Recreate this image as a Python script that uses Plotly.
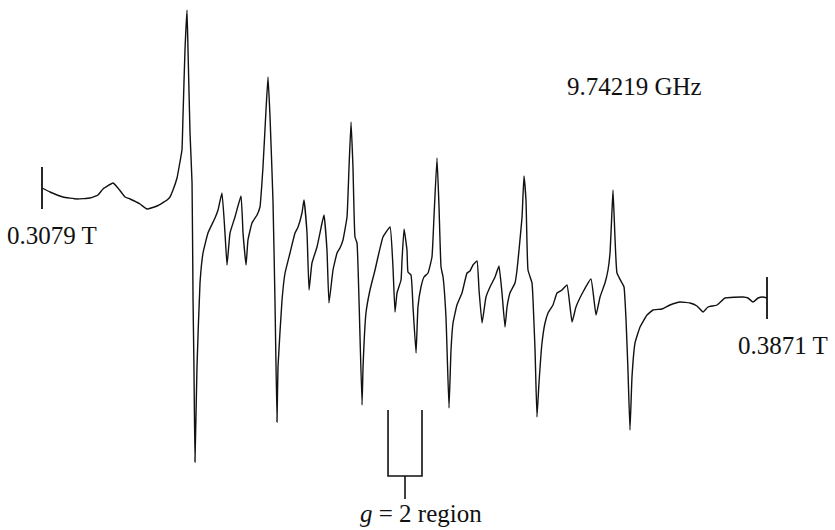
import plotly.graph_objects as go

# EPR first-derivative spectrum, field in mT, signal in arbitrary units
field_mT = [
    307.90, 308.77, 310.19, 311.72, 313.14, 314.02, 314.56, 315.66, 316.20, 316.97,
    317.51, 318.61, 319.37, 320.46, 321.56, 321.88, 322.21, 322.65, 322.97, 323.19,
    323.30, 323.52, 323.74, 323.85, 324.07, 324.29, 324.40, 324.50, 324.61, 324.83,
    325.16, 325.49, 326.03, 326.80, 327.13, 327.56, 327.89, 328.11, 328.44, 328.98,
    329.64, 329.86, 330.19, 330.40, 330.84, 331.39, 331.71, 332.04, 332.37, 332.59,
    332.81, 333.13, 333.35, 333.57, 333.68, 334.12, 334.45, 334.99, 335.54, 335.87,
    336.30, 336.52, 336.85, 337.07, 337.39, 337.94, 338.49, 338.71, 339.03, 339.25,
    339.69, 340.13, 340.45, 340.78, 341.22, 341.44, 341.66, 341.87, 342.09, 342.31,
    342.53, 342.86, 342.97, 343.29, 343.73, 344.28, 344.60, 345.15, 345.92, 346.24,
    346.46, 346.68, 347.12, 347.23, 347.45, 347.77, 347.88, 348.21, 348.43, 348.76,
    348.97, 349.30, 349.63, 350.07, 350.50, 350.72, 351.05, 351.27, 351.49, 351.71,
    352.03, 352.36, 352.58, 352.80, 353.23, 353.78, 354.33, 354.65, 354.98, 355.42,
    355.64, 355.97, 356.40, 356.84, 357.39, 357.82, 358.15, 358.48, 358.70, 359.02,
    359.57, 359.79, 360.01, 360.34, 360.55, 360.77, 360.99, 361.43, 361.54, 361.76,
    361.97, 362.19, 362.52, 362.85, 363.18, 363.72, 364.16, 364.71, 365.25, 365.80,
    366.23, 367.00, 367.87, 368.42, 368.86, 369.40, 369.73, 369.95, 370.17, 370.28,
    370.49, 370.71, 371.26, 371.48, 371.70, 371.91, 372.13, 372.35, 372.68, 373.23,
    373.99, 374.65, 375.63, 376.50, 377.60, 378.69, 379.45, 380.11, 380.65, 381.64,
    382.51, 384.48, 385.02, 385.57, 386.12, 386.66, 387.10,
]
signal = [
    112, 108, 103, 101, 102, 105, 111, 117, 112, 103,
    101, 96, 91, 94, 100, 103, 110, 122, 138, 150,
    183, 250, 290, 250, 167, 117, 0, -67, -162, -67,
    17, 47, 67, 82, 90, 107, 67, 35, 67, 83,
    104, 67, 35, 60, 77, 85, 93, 133, 190, 223,
    183, 100, 0, -122, -67, 0, 27, 47, 67, 73,
    87, 100, 67, 10, 37, 53, 77, 85, 50, -3,
    30, 47, 52, 60, 83, 133, 178, 133, 63, 57,
    0, -105, -67, -13, 10, 30, 43, 63, 73, 33,
    -12, 7, 20, 40, 71, 50, 28, 25, -7, -53,
    -7, 13, 23, 27, 43, 83, 142, 93, 33, 23,
    -17, -108, -50, -23, -5, 7, 27, 29, 35, 39,
    10, -23, 3, 13, 23, 34, 7, -27, -7, 7,
    17, 30, 50, 83, 124, 100, 30, 17, 0, -50,
    -117, -83, -43, -23, -13, -5, 7, 10, 15, -22,
    -7, 8, 21, -15, 3, 17, 30, 47, 90, 110,
    63, 27, 17, 13, -20, -70, -130, -77, -43, -27,
    -15, -10, -9, -5, -2, -3, -6, -12, -7, -5,
    2, 3, 2, -2, 2, 3, 2,
]

sweep_start_label = "0.3079 T"
sweep_end_label = "0.3871 T"
frequency_label = "9.74219 GHz"
g2_region_mT = [345.70, 349.41]   # bracketed g = 2 window
g2_region_label = "<i>g</i> = 2 region"

serif = "Liberation Serif, Times New Roman, serif"
ink = "#111111"
label_font = dict(family=serif, size=25, color=ink)

fig = go.Figure()
fig.add_trace(go.Scatter(
    x=field_mT, y=signal, mode="lines",
    line=dict(color=ink, width=1.4, shape="spline", smoothing=0.35),
    hoverinfo="skip", showlegend=False,
))

# short vertical markers at both ends of the sweep
tick_half = 21
for xv, yv in [(field_mT[0], signal[0]), (field_mT[-1], signal[-1])]:
    fig.add_shape(type="line", x0=xv, x1=xv, y0=yv - tick_half, y1=yv + tick_half,
                  line=dict(color=ink, width=1.8))

fig.add_annotation(x=field_mT[0] + 1.1, y=signal[0] - 47, text=sweep_start_label,
                   showarrow=False, font=label_font)
fig.add_annotation(x=field_mT[-1] + 1.7, y=signal[-1] - 47, text=sweep_end_label,
                   showarrow=False, font=label_font)
fig.add_annotation(x=372.6, y=214, text=frequency_label,
                   showarrow=False, font=label_font)

# g = 2 bracket
g_lo, g_hi = g2_region_mT
g_mid = (g_lo + g_hi) / 2
bracket_top, bracket_bottom, stem_bottom = -110, -176, -199
fig.add_shape(type="path",
              path=f"M {g_lo} {bracket_top} L {g_lo} {bracket_bottom} "
                   f"L {g_hi} {bracket_bottom} L {g_hi} {bracket_top}",
              line=dict(color=ink, width=1.6))
fig.add_shape(type="line", x0=g_mid, x1=g_mid, y0=bracket_bottom, y1=stem_bottom,
              line=dict(color=ink, width=1.6))
fig.add_annotation(x=g_mid + 1.8, y=-213, text=g2_region_label,
                   showarrow=False, font=label_font)

fig.update_layout(
    width=835, height=530,
    margin=dict(l=0, r=0, t=0, b=0),
    paper_bgcolor="white", plot_bgcolor="white",
    xaxis=dict(range=[303.312, 394.527], visible=False, fixedrange=True),
    yaxis=dict(range=[-230, 300], visible=False, fixedrange=True),
)

fig.write_html("out.html")
